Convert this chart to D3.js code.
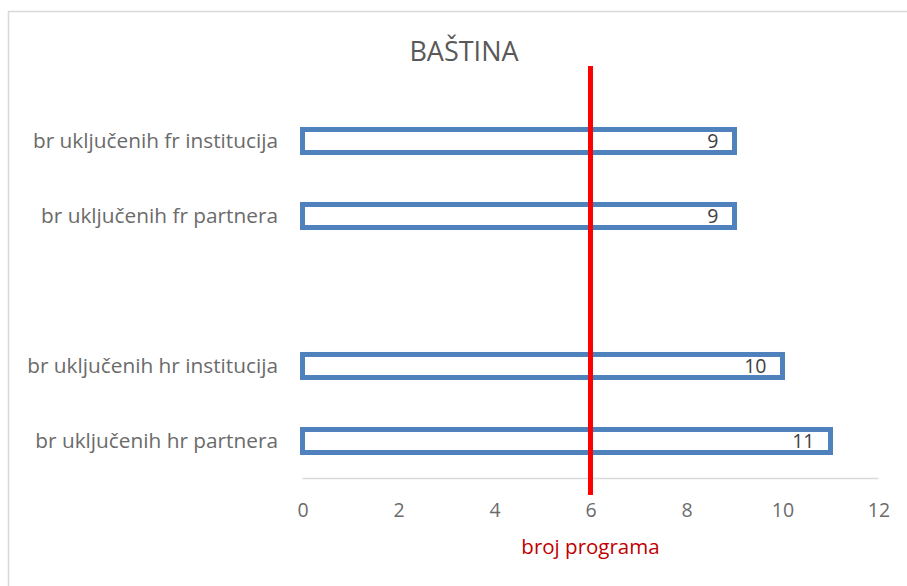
<!DOCTYPE html>
<html>
<head>
<meta charset="utf-8">
<script src="https://cdn.jsdelivr.net/npm/d3@7"></script>
<style>
  html, body { margin: 0; padding: 0; background: #fff; }
  svg { display: block; }
  text { font-family: "Open Sans", Lato, sans-serif; }
</style>
</head>
<body>
<svg id="chart" width="907" height="586"></svg>
<script>
const categories = ["br uključenih fr institucija", "br uključenih fr partnera", "", "br uključenih hr institucija", "br uključenih hr partnera"];
const values = [9, 9, null, 10, 11];
const xTicks = [0, 2, 4, 6, 8, 10, 12];
const refValue = 6;
const title = "BAŠTINA";
const xTitle = "broj programa";

const FONT = "'Open Sans', Lato, sans-serif";
const svg = d3.select("#chart");
const W = 907, H = 586;

svg.append("rect").attr("x", 8.5).attr("y", 11.5).attr("width", W + 10).attr("height", H + 10)
  .attr("fill", "#fff").attr("stroke", "#D9D9D9").attr("stroke-width", 1.5);

const keys = categories.map((c, i) => i);
const x = d3.scaleLinear().domain([0, 12]).range([302.5, 878.5]);
const y = d3.scaleBand().domain(keys).range([103.5, 478.5]).paddingInner(0.693).paddingOuter(0.3465);

// axis line
svg.append("line").attr("x1", x(0)).attr("x2", x(12)).attr("y1", 478.5).attr("y2", 478.5)
  .attr("stroke", "#D9D9D9").attr("stroke-width", 1.5);

// tick labels
const xAxis = d3.axisBottom(x).tickValues(xTicks).tickSize(0).tickPadding(0);
const gx = svg.append("g").attr("transform", "translate(0,478.5)").call(xAxis);
gx.select(".domain").remove();
gx.selectAll("text").attr("dy", null).attr("y", 38)
  .attr("fill", "#6B6B6B").attr("font-size", 19.5).style("font-family", FONT);

// category labels
const yAxis = d3.axisLeft(y).tickFormat(i => categories[i]).tickSize(0).tickPadding(0);
const gy = svg.append("g").attr("transform", "translate(278,0)").call(yAxis);
gy.select(".domain").remove();
gy.selectAll("text").attr("x", 0).attr("dy", "0.35em")
  .attr("fill", "#6B6B6B").attr("font-size", 20.8).style("font-family", FONT);

// bars
const data = keys.filter(i => values[i] != null).map(i => ({ i, v: values[i] }));
svg.append("g").selectAll("rect").data(data).join("rect")
  .attr("x", x(0)).attr("y", d => y(d.i))
  .attr("width", d => x(d.v) - x(0)).attr("height", y.bandwidth())
  .attr("fill", "#fff").attr("stroke", "#4F81BD").attr("stroke-width", 5);

// value labels
svg.append("g").selectAll("text").data(data).join("text")
  .attr("x", d => x(d.v) - 16).attr("y", d => y(d.i) + y.bandwidth() / 2)
  .attr("dy", "0.38em").attr("text-anchor", "end")
  .attr("fill", "#404040").attr("font-size", 19.5).text(d => d.v);

// reference line
svg.append("line").attr("x1", x(refValue)).attr("x2", x(refValue)).attr("y1", 66).attr("y2", 495)
  .attr("stroke", "#FF0000").attr("stroke-width", 5);

// title
svg.append("text").attr("x", 464).attr("y", 61).attr("text-anchor", "middle")
  .attr("fill", "#595959").attr("font-size", 27).text(title);

// x axis title
svg.append("text").attr("x", x(refValue)).attr("y", 554).attr("text-anchor", "middle")
  .attr("fill", "#C00000").attr("font-size", 20.5).text(xTitle);
</script>
</body>
</html>
